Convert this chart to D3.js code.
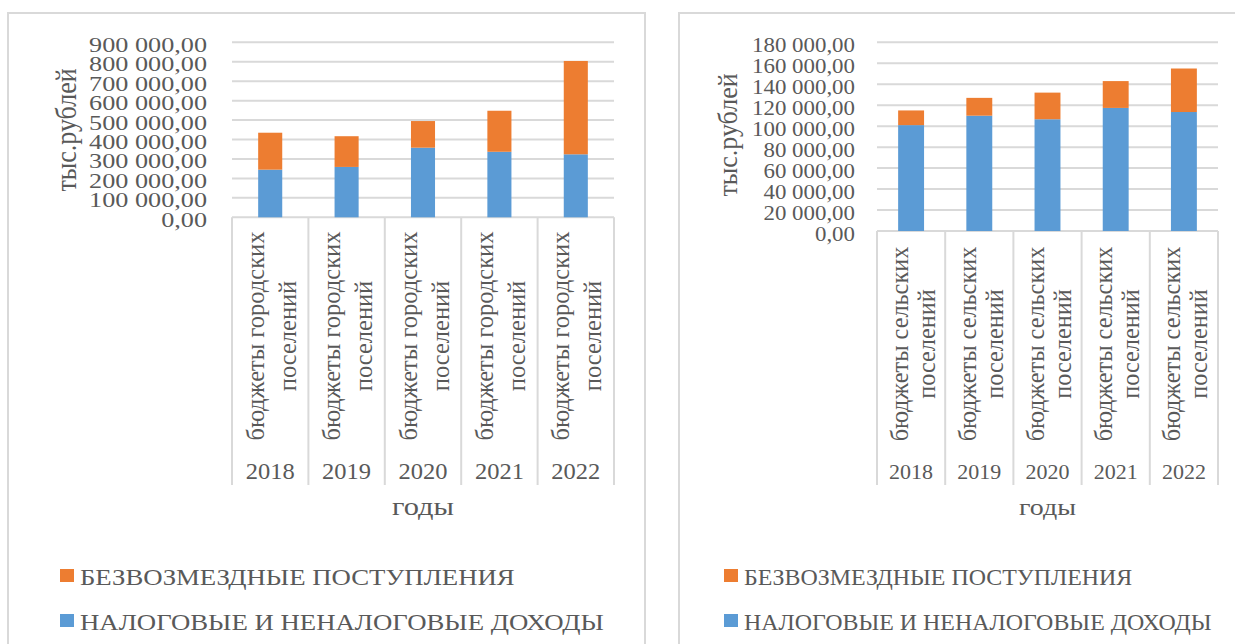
<!DOCTYPE html>
<html>
<head>
<meta charset="utf-8">
<script src="https://cdn.jsdelivr.net/npm/d3@7"></script>
<style>
  body { margin: 0; background: #fff; }
  text { font-family: "Liberation Serif", "Times New Roman", serif; fill: #595959; }
</style>
</head>
<body>
<svg id="chart" width="1235" height="644"></svg>
<script>
// values, thousand roubles
const years = ['2018', '2019', '2020', '2021', '2022'];
const urbanLabel = ['бюджеты городских', 'поселений'];
const ruralLabel = ['бюджеты сельских', 'поселений'];
const urbanTaxIncome = [245000, 259000, 358000, 337000, 324000];
const urbanGrants = [190000, 158000, 137000, 211000, 480000];
const ruralTaxIncome = [101000, 110000, 106600, 117400, 113500];
const ruralGrants = [14000, 17000, 25400, 25600, 41500];
const urbanTicks = [0, 100000, 200000, 300000, 400000, 500000, 600000, 700000, 800000, 900000];
const ruralTicks = [0, 20000, 40000, 60000, 80000, 100000, 120000, 140000, 160000, 180000];
const seriesKeys = ['tax', 'grants'];
const seriesNames = ['НАЛОГОВЫЕ И НЕНАЛОГОВЫЕ ДОХОДЫ', 'БЕЗВОЗМЕЗДНЫЕ ПОСТУПЛЕНИЯ'];
const seriesColors = ['#5b9bd5', '#ed7d31'];
const axisTitle = 'тыс.рублей';
const catTitle = 'годы';

const ruLocale = d3.formatLocale({ decimal: ',', thousands: '\u00a0', grouping: [3], currency: ['', ''] });
const fmt = ruLocale.format(',.2f');

const svg = d3.select('#chart');
const grid = '#d9d9d9';

// text with an optional horizontal stretch (the reference picture is a bit wide)
function label(parent, x, y, str, size, sx, anchor, rotate) {
  return parent.append('text')
    .attr('transform', `translate(${x},${y}) scale(${sx},1)` + (rotate ? ' rotate(-90)' : ''))
    .attr('text-anchor', anchor)
    .style('font-size', size + 'px')
    .text(str);
}

// stretch factor so that a sample string comes out at the wanted width
function fitSx(str, size, width) {
  const t = svg.append('text').style('font-size', size + 'px').text(str);
  const w = t.node().getComputedTextLength();
  t.remove();
  return w > 0 ? width / w : 1;
}

function drawChart(cfg) {
  const g = svg.append('g');

  // chart frame
  g.append('rect')
    .attr('x', cfg.frameX).attr('y', 13)
    .attr('width', cfg.frameW).attr('height', 700)
    .attr('fill', 'none').attr('stroke', grid).attr('stroke-width', 2);

  const data = years.map((yr, i) => ({ year: yr, tax: cfg.tax[i], grants: cfg.grants[i] }));
  const stacked = d3.stack().keys(seriesKeys)(data);

  const xCat = d3.scaleBand().domain(years).range([cfg.x0, cfg.x1]);
  const xBar = d3.scaleBand().domain(years).range([cfg.x0, cfg.x1])
    .paddingInner(cfg.pad).paddingOuter(cfg.pad / 2);
  const y = d3.scaleLinear().domain([0, d3.max(cfg.ticks)]).range([cfg.y0, 42.3]);

  // gridlines
  g.append('g').selectAll('line')
    .data(cfg.ticks)
    .join('line')
    .attr('x1', cfg.x0).attr('x2', cfg.x1)
    .attr('y1', d => y(d)).attr('y2', d => y(d))
    .attr('stroke', grid).attr('stroke-width', 2);

  // tick labels
  const top = d3.max(cfg.ticks);
  const tickSx = fitSx(fmt(top), cfg.tickSize, cfg.tickWidth);
  cfg.ticks.forEach(t => {
    label(g, cfg.tickRight, y(t) + 9.5, fmt(t), cfg.tickSize, tickSx, 'end');
  });

  // stacked bars
  g.append('g').selectAll('g')
    .data(stacked)
    .join('g')
    .attr('fill', (d, i) => seriesColors[i])
    .selectAll('rect')
    .data(d => d)
    .join('rect')
    .attr('x', d => xBar(d.data.year))
    .attr('width', xBar.bandwidth())
    .attr('y', d => y(d[1]))
    .attr('height', d => y(d[0]) - y(d[1]));

  // category box separators
  const edges = years.map(d => xCat(d)).concat([cfg.x1]);
  g.append('g').selectAll('line')
    .data(edges)
    .join('line')
    .attr('x1', d => d).attr('x2', d => d)
    .attr('y1', cfg.y0).attr('y2', 485)
    .attr('stroke', grid).attr('stroke-width', 2);

  // rotated category labels and years
  const yearSx = fitSx(years[0], cfg.yearSize, cfg.yearWidth);
  years.forEach(yr => {
    const cx = xCat(yr) + xCat.bandwidth() / 2;
    cfg.catLabel.forEach((line, i) => {
      label(g, cx + cfg.lineOffsets[i], cfg.catCenterY, line, cfg.catSize, 1, 'middle', true)
        .attr('dominant-baseline', 'central');
    });
    label(g, cx, 479, yr, cfg.yearSize, yearSx, 'middle');
  });

  // axis titles
  const catSx = fitSx(catTitle, cfg.catTitleSize, cfg.catTitleWidth);
  label(g, (cfg.x0 + cfg.x1) / 2, 515, catTitle, cfg.catTitleSize, catSx, 'middle');
  label(g, cfg.titleX, cfg.titleY, axisTitle, cfg.titleSize, cfg.titleSx, 'middle', true)
    .attr('dominant-baseline', 'central');

  // legend: grants first, then tax
  const legSx = fitSx(seriesNames[0], cfg.legendSize, cfg.legendWidth);
  [1, 0].forEach((s, row) => {
    const ly = row === 0 ? 569 : 614;
    g.append('rect')
      .attr('x', cfg.legendX).attr('y', ly)
      .attr('width', 14).attr('height', 13)
      .attr('fill', seriesColors[s]);
    label(g, cfg.legendX + 20, ly + 16, seriesNames[s], cfg.legendSize, legSx, 'start');
  });
}

drawChart({
  frameX: 8, frameW: 637,
  x0: 232, x1: 614, y0: 217.3, pad: 0.685,
  tax: urbanTaxIncome, grants: urbanGrants, ticks: urbanTicks,
  tickRight: 207, tickSize: 22, tickWidth: 118,
  catLabel: urbanLabel, lineOffsets: [-15, 17], catCenterY: 336, catSize: 24.5,
  yearSize: 24, yearWidth: 49,
  catTitleSize: 25, catTitleWidth: 62,
  titleX: 67, titleY: 130, titleSize: 26, titleSx: 1.1,
  legendX: 60, legendSize: 22.5, legendWidth: 524
});

drawChart({
  frameX: 679, frameW: 600,
  x0: 877, x1: 1218, y0: 231, pad: 0.62,
  tax: ruralTaxIncome, grants: ruralGrants, ticks: ruralTicks,
  tickRight: 855, tickSize: 22, tickWidth: 103,
  catLabel: ruralLabel, lineOffsets: [-12, 15], catCenterY: 344, catSize: 24.3,
  yearSize: 22, yearWidth: 44,
  catTitleSize: 24, catTitleWidth: 57,
  titleX: 728, titleY: 135, titleSize: 26, titleSx: 1.05,
  legendX: 724, legendSize: 22.5, legendWidth: 468
});
</script>
</body>
</html>
